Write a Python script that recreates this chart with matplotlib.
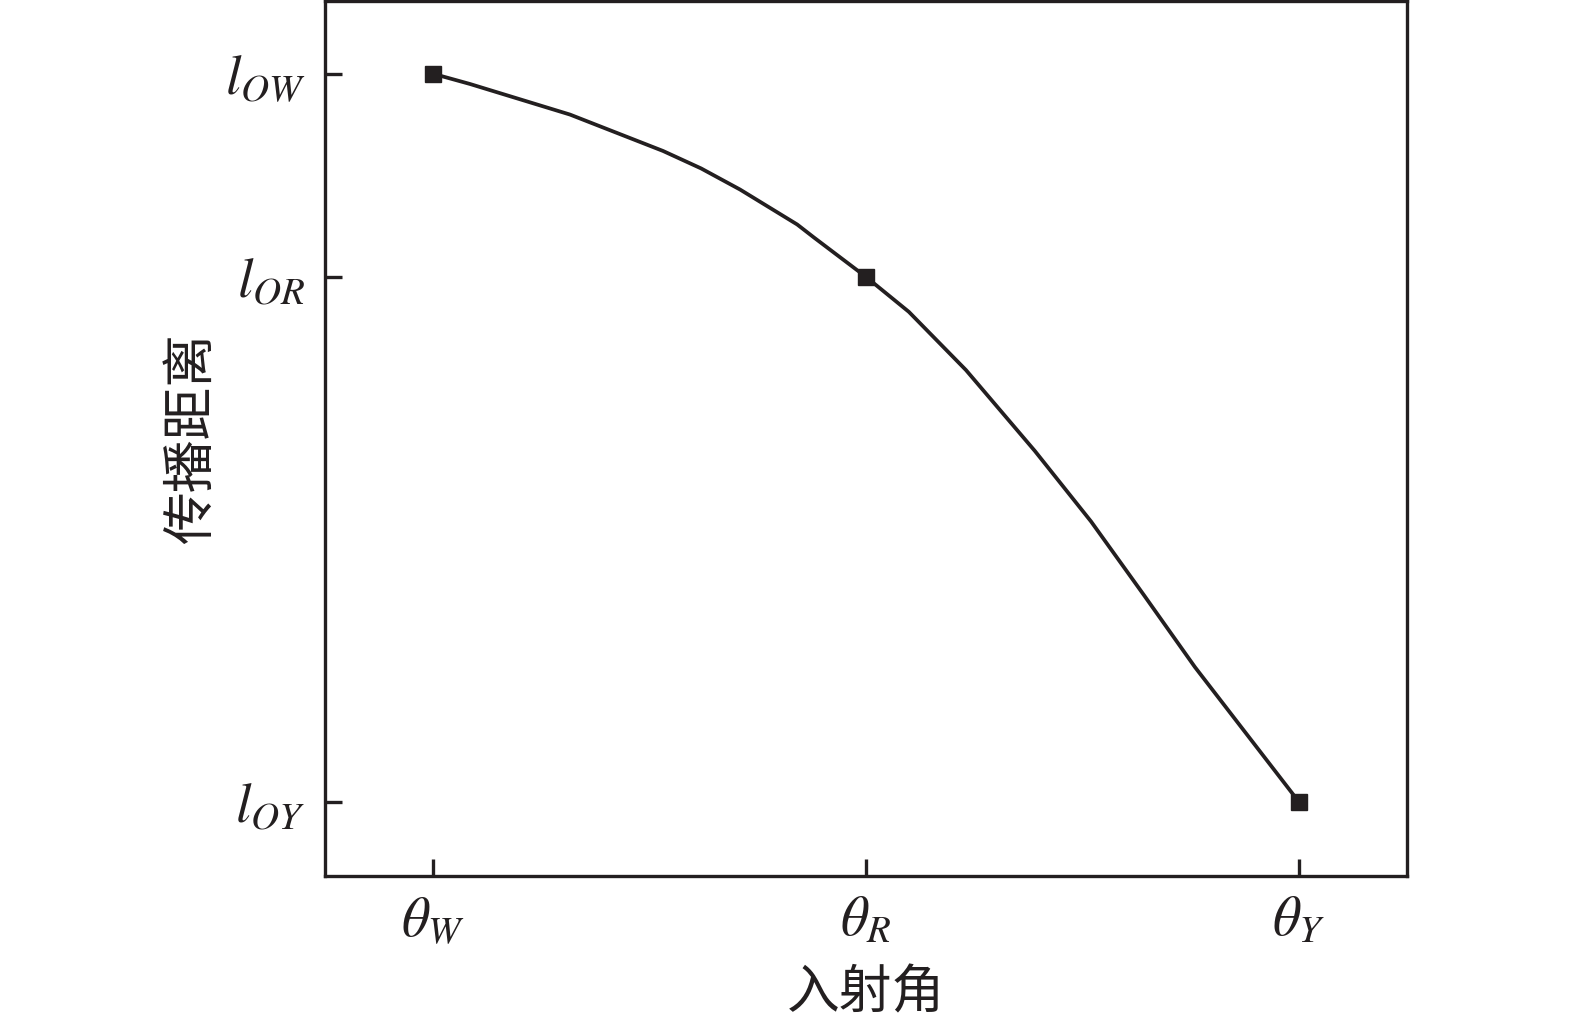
import matplotlib
matplotlib.use('Agg')
import matplotlib.pyplot as plt

plt.rcParams['font.family'] = ['Liberation Serif', 'Noto Sans CJK SC', 'DejaVu Sans']
plt.rcParams['mathtext.fontset'] = 'stix'

INK = '#231f20'

# incident angle (theta_W = 0, theta_R = 1, theta_Y = 2) vs propagation distance
curve_x = [0.0, 0.085, 0.316, 0.531, 0.619, 0.709, 0.841, 0.880, 1.0,
           1.099, 1.231, 1.390, 1.520, 1.642, 1.760, 2.0]
curve_y = [1.0, 0.986, 0.944, 0.894, 0.870, 0.841, 0.793, 0.775, 0.721,
           0.673, 0.593, 0.482, 0.385, 0.284, 0.185, 0.0]

point_x = [0.0, 1.0, 2.0]
point_y = [1.0, 0.721, 0.0]

x_ticks = [0.0, 1.0, 2.0]
x_labels = [r'$\theta_{W}$', r'$\theta_{R}$', r'$\theta_{Y}$']
y_ticks = [1.0, 0.721, 0.0]
y_labels = [r'$l_{OW}$', r'$l_{OR}$', r'$l_{OY}$']

fig = plt.figure(figsize=(15.75, 10.24), dpi=100)
ax = fig.add_axes([325 / 1575, 1 - 876 / 1024, (1407 - 325) / 1575, 875 / 1024])

ax.plot(curve_x, curve_y, color=INK, lw=2.7)
ax.plot(point_x, point_y, ls='none', marker='s', ms=12, color=INK)

ax.set_xlim(-0.25, 2.25)
ax.set_ylim(-0.102, 1.1)

ax.set_xticks(x_ticks)
ax.set_xticklabels(x_labels)
ax.set_yticks(y_ticks)
ax.set_yticklabels(y_labels)

ax.tick_params(direction='in', length=12, width=2.4, color=INK,
               labelsize=40, labelcolor=INK)
ax.tick_params(axis='x', pad=14)
ax.tick_params(axis='y', pad=14)

for s in ax.spines.values():
    s.set_linewidth(2.4)
    s.set_color(INK)

ax.text(-0.123, 0.5, '传播距离', transform=ax.transAxes, rotation=90,
        ha='center', va='center', fontsize=38, color=INK,
        family=['Noto Sans CJK SC', 'DejaVu Sans'])
ax.text(0.5, -0.134, '入射角', transform=ax.transAxes,
        ha='center', va='center', fontsize=38, color=INK,
        family=['Noto Sans CJK SC', 'DejaVu Sans'])

fig.savefig('out.png', dpi=100)
